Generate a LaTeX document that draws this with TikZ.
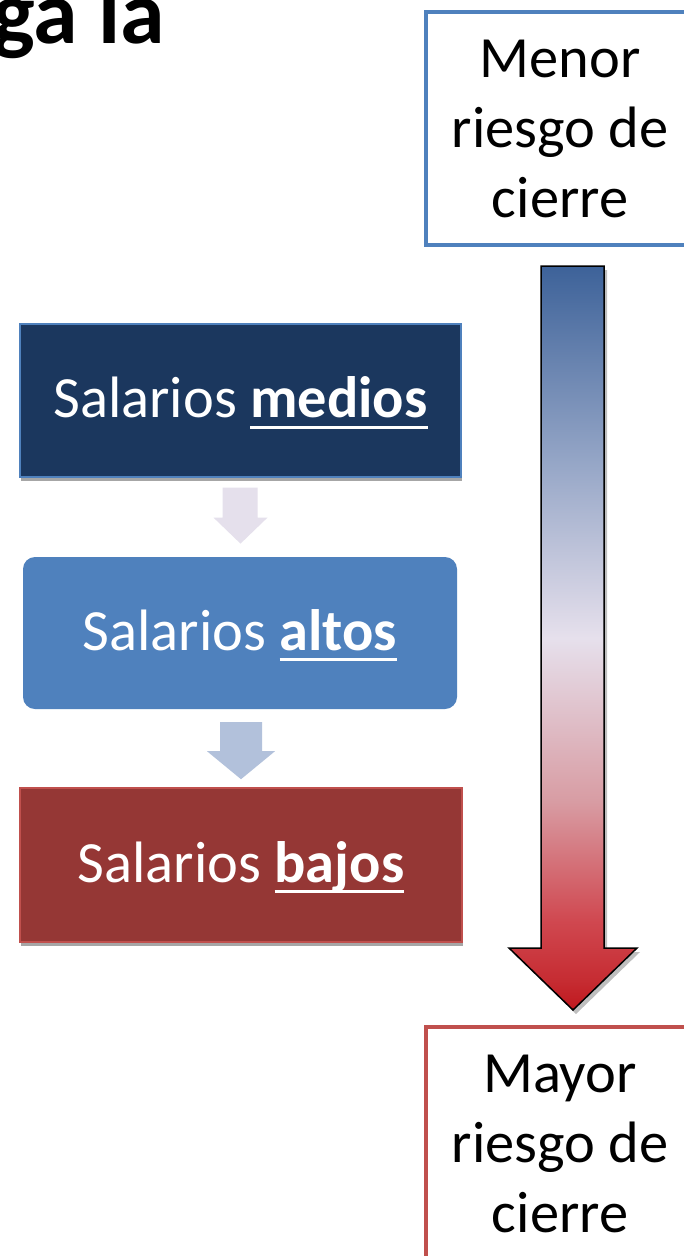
\documentclass[tikz,border=0pt]{standalone}
\usepackage{fontspec}
\setmainfont{Carlito}
\usetikzlibrary{shadows,calc}
\definecolor{navy}{HTML}{1B375E}
\definecolor{accblue}{HTML}{4F81BD}
\definecolor{accred}{HTML}{C0504D}
\definecolor{darkred}{HTML}{953735}
\definecolor{lav}{HTML}{E5E0EC}
\definecolor{lightblue}{HTML}{B2C1DB}
\definecolor{gr1}{HTML}{C0181E}
\definecolor{gr2}{HTML}{C62C32}
\definecolor{gr3}{HTML}{D04850}
\definecolor{gr4}{HTML}{D89CA3}
\definecolor{gr5}{HTML}{E6E0EC}
\definecolor{gr6}{HTML}{94A5C6}
\definecolor{gr7}{HTML}{3D6299}
\pgfdeclareverticalshading{riskgrad}{100bp}{color(0bp)=(gr1); color(25bp)=(gr1); color(27bp)=(gr2); color(31bp)=(gr3); color(39bp)=(gr4); color(50bp)=(gr5); color(62bp)=(gr6); color(75bp)=(gr7); color(100bp)=(gr7)}
\newcommand\salul[1]{\setbox0=\hbox{#1}\rlap{\rule[-11pt]{\wd0}{3pt}}\box0}
\begin{document}
\begin{tikzpicture}[x=1pt,y=-1pt,
  salbox/.style={rectangle, inner sep=0pt, text=white,
    font=\fontsize{58.4}{68}\selectfont, text height=40pt, text depth=6pt},
  riskbox/.style={rectangle, fill=white, line width=4.5pt, inner sep=0pt,
    minimum width=268pt, minimum height=233pt,
    font=\fontsize{58.4}{70}\selectfont, align=center},
  boxshadow/.style={drop shadow={shadow xshift=1pt, shadow yshift=-4pt, opacity=.35, fill=black}}
]
\useasboundingbox (0,0) rectangle (683,1256);
\fill[white] (0,0) rectangle (683,1256);

% cropped title
\node[font=\fontsize{90}{100}\selectfont\bfseries, anchor=base east, inner sep=0pt] (title) at (165,43) {ga la};

% left boxes
\node[salbox, boxshadow, fill=navy, draw=accblue, line width=1.2pt,
      minimum width=441pt, minimum height=153pt] (medios) at (240.5,400.5)
      {Salarios \salul{\bfseries medios}};
\node[salbox, fill=accblue, rounded corners=12pt,
      minimum width=434pt, minimum height=152pt] (altos) at (240,633)
      {Salarios \salul{\bfseries altos}};
\node[salbox, boxshadow, fill=darkred, draw=accred, line width=1.2pt,
      minimum width=442pt, minimum height=154pt] (bajos) at (241,865)
      {Salarios \salul{\bfseries bajos}};

% small block arrows
\fill[lav] ($(medios.south)+(-18,10)$) -- ($(medios.south)+(17,10)$)
  -- ($(medios.south)+(17,40)$) -- ($(medios.south)+(27,40)$)
  -- ($(medios.south)+(0,66)$) -- ($(medios.south)+(-27,40)$)
  -- ($(medios.south)+(-18,40)$) -- cycle;
\fill[lightblue] ($(altos.south)+(-20,13)$) -- ($(altos.south)+(22,13)$)
  -- ($(altos.south)+(22,42)$) -- ($(altos.south)+(35,42)$)
  -- ($(altos.south)+(1,70)$) -- ($(altos.south)+(-33,42)$)
  -- ($(altos.south)+(-20,42)$) -- cycle;

% right boxes
\node[riskbox, draw=accblue] (menor) at (560,128.5) {Menor\\riesgo de\\cierre};
\node[riskbox, draw=accred] (mayor) at (560,1143.5) {Mayor\\riesgo de\\cierre};

% big gradient arrow
\coordinate (s1) at (541,266);
\coordinate (s2) at (604,266);
\coordinate (s3) at (604,948);
\coordinate (h1) at (637,948);
\coordinate (tip) at (573,1010);
\coordinate (h2) at (509,948);
\coordinate (s4) at (541,948);
\fill[black, opacity=0.25] ($(s1)+(3,4)$) -- ($(s2)+(3,4)$) -- ($(s3)+(3,4)$) -- ($(h1)+(3,4)$)
  -- ($(tip)+(3,4)$) -- ($(h2)+(3,4)$) -- ($(s4)+(3,4)$) -- cycle;
\draw[line width=1.5pt, shading=riskgrad, line join=miter]
  (s1) -- (s2) -- (s3) -- (h1) -- (tip) -- (h2) -- (s4) -- cycle;
\end{tikzpicture}
\end{document}
